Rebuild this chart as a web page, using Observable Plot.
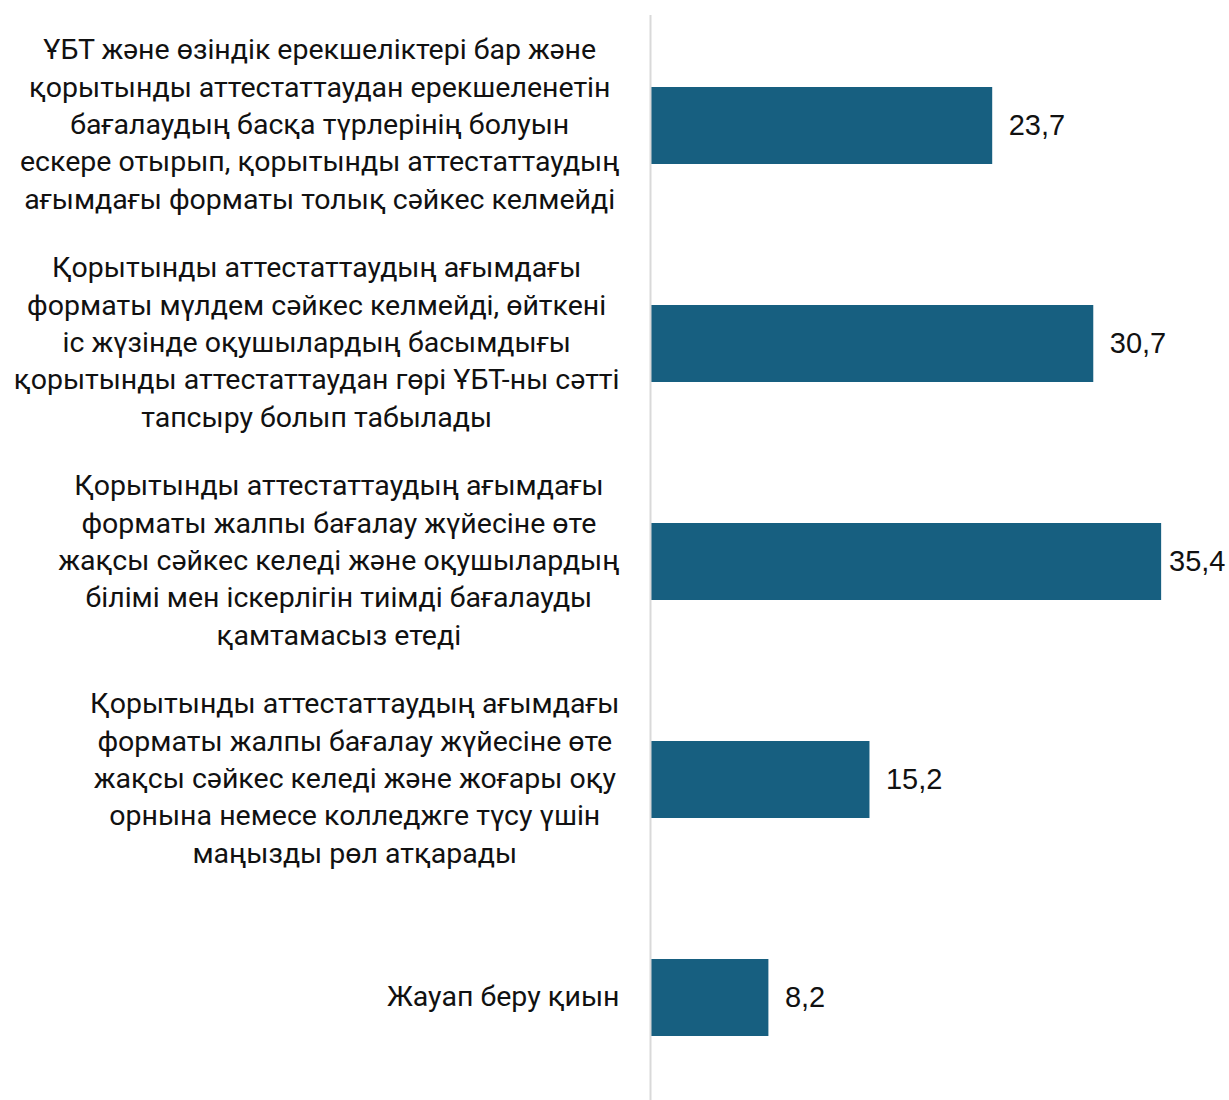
<!DOCTYPE html>
<html>
<head>
<meta charset="utf-8">
<script src="https://cdn.jsdelivr.net/npm/d3@7"></script>
<script src="https://cdn.jsdelivr.net/npm/@observablehq/plot@0.6"></script>
<style>
  html, body { margin: 0; padding: 0; background: #fff; }
  #chart svg { display: block; }
</style>
</head>
<body>
<div id="chart"></div>
<script>
const categories = [
  "ҰБТ және өзіндік ерекшеліктері бар және\nқорытынды аттестаттаудан ерекшеленетін\nбағалаудың басқа түрлерінің болуын\nескере отырып, қорытынды аттестаттаудың\nағымдағы форматы толық сәйкес келмейді",
  "Қорытынды аттестаттаудың ағымдағы\nформаты мүлдем сәйкес келмейді, өйткені\nіс жүзінде оқушылардың басымдығы\nқорытынды аттестаттаудан гөрі ҰБТ-ны сәтті\nтапсыру болып табылады",
  "Қорытынды аттестаттаудың ағымдағы\nформаты жалпы бағалау жүйесіне өте\nжақсы сәйкес келеді және оқушылардың\nбілімі мен іскерлігін тиімді бағалауды\nқамтамасыз етеді",
  "Қорытынды аттестаттаудың ағымдағы\nформаты жалпы бағалау жүйесіне өте\nжақсы сәйкес келеді және жоғары оқу\nорнына немесе колледжге түсу үшін\nмаңызды рөл атқарады",
  "Жауап беру қиын"
];
const values = [23.7, 30.7, 35.4, 15.2, 8.2];

const data = categories.map((c, i) => ({category: c, value: values[i]}));

const W = 1229, H = 1100, ML = 650;
const labelFont = "Roboto, 'Noto Sans', sans-serif";
const labelSize = 28.5;
const valueFont = "'Liberation Sans', Arial, sans-serif";
const valueSize = 29;

const ctx = document.createElement("canvas").getContext("2d");
function textWidth(s, size, family) {
  ctx.font = `${size}px ${family}`;
  return ctx.measureText(s).width;
}
const fmt = v => v.toFixed(1).replace(".", ",");

const xMax = 40.1;
const k = (W - ML) / xMax;
const labelGap = 16;

const fits = d => ML + d.value * k + labelGap + textWidth(fmt(d.value), valueSize, valueFont) <= W - 2;

const labelMarks = data.map(d => {
  const maxW = d3.max(d.category.split("\n"), line => textWidth(line, labelSize, labelFont));
  return Plot.text([d], {
    y: "category",
    text: "category",
    frameAnchor: "left",
    textAnchor: "middle",
    lineAnchor: "middle",
    lineHeight: 37.4 / labelSize,
    dx: -31 - maxW / 2,
    dy: -4,
    fontSize: labelSize,
    fontFamily: labelFont,
    fill: "#111"
  });
});

const chart = Plot.plot({
  width: W,
  height: H,
  marginLeft: ML,
  marginRight: 0,
  marginTop: 15,
  marginBottom: 0,
  x: {domain: [0, xMax], axis: null},
  y: {domain: categories, range: [16, 1106], paddingInner: 0.647, paddingOuter: 0.3235, axis: null},
  marks: [
    Plot.barX(data, {x: "value", y: "category", fill: "#175f80"}),
    Plot.ruleX([0], {stroke: "#d9d9d9", strokeWidth: 2}),
    Plot.text(data.filter(fits), {
      x: "value", y: "category", text: d => fmt(d.value),
      textAnchor: "start", dx: labelGap,
      fontSize: valueSize, fontFamily: valueFont, fill: "#111"
    }),
    Plot.text(data.filter(d => !fits(d)), {
      y: "category", text: d => fmt(d.value),
      frameAnchor: "right", textAnchor: "end", dx: -4,
      fontSize: valueSize, fontFamily: valueFont, fill: "#111"
    }),
    ...labelMarks
  ]
});
document.getElementById("chart").appendChild(chart);
</script>
</body>
</html>
